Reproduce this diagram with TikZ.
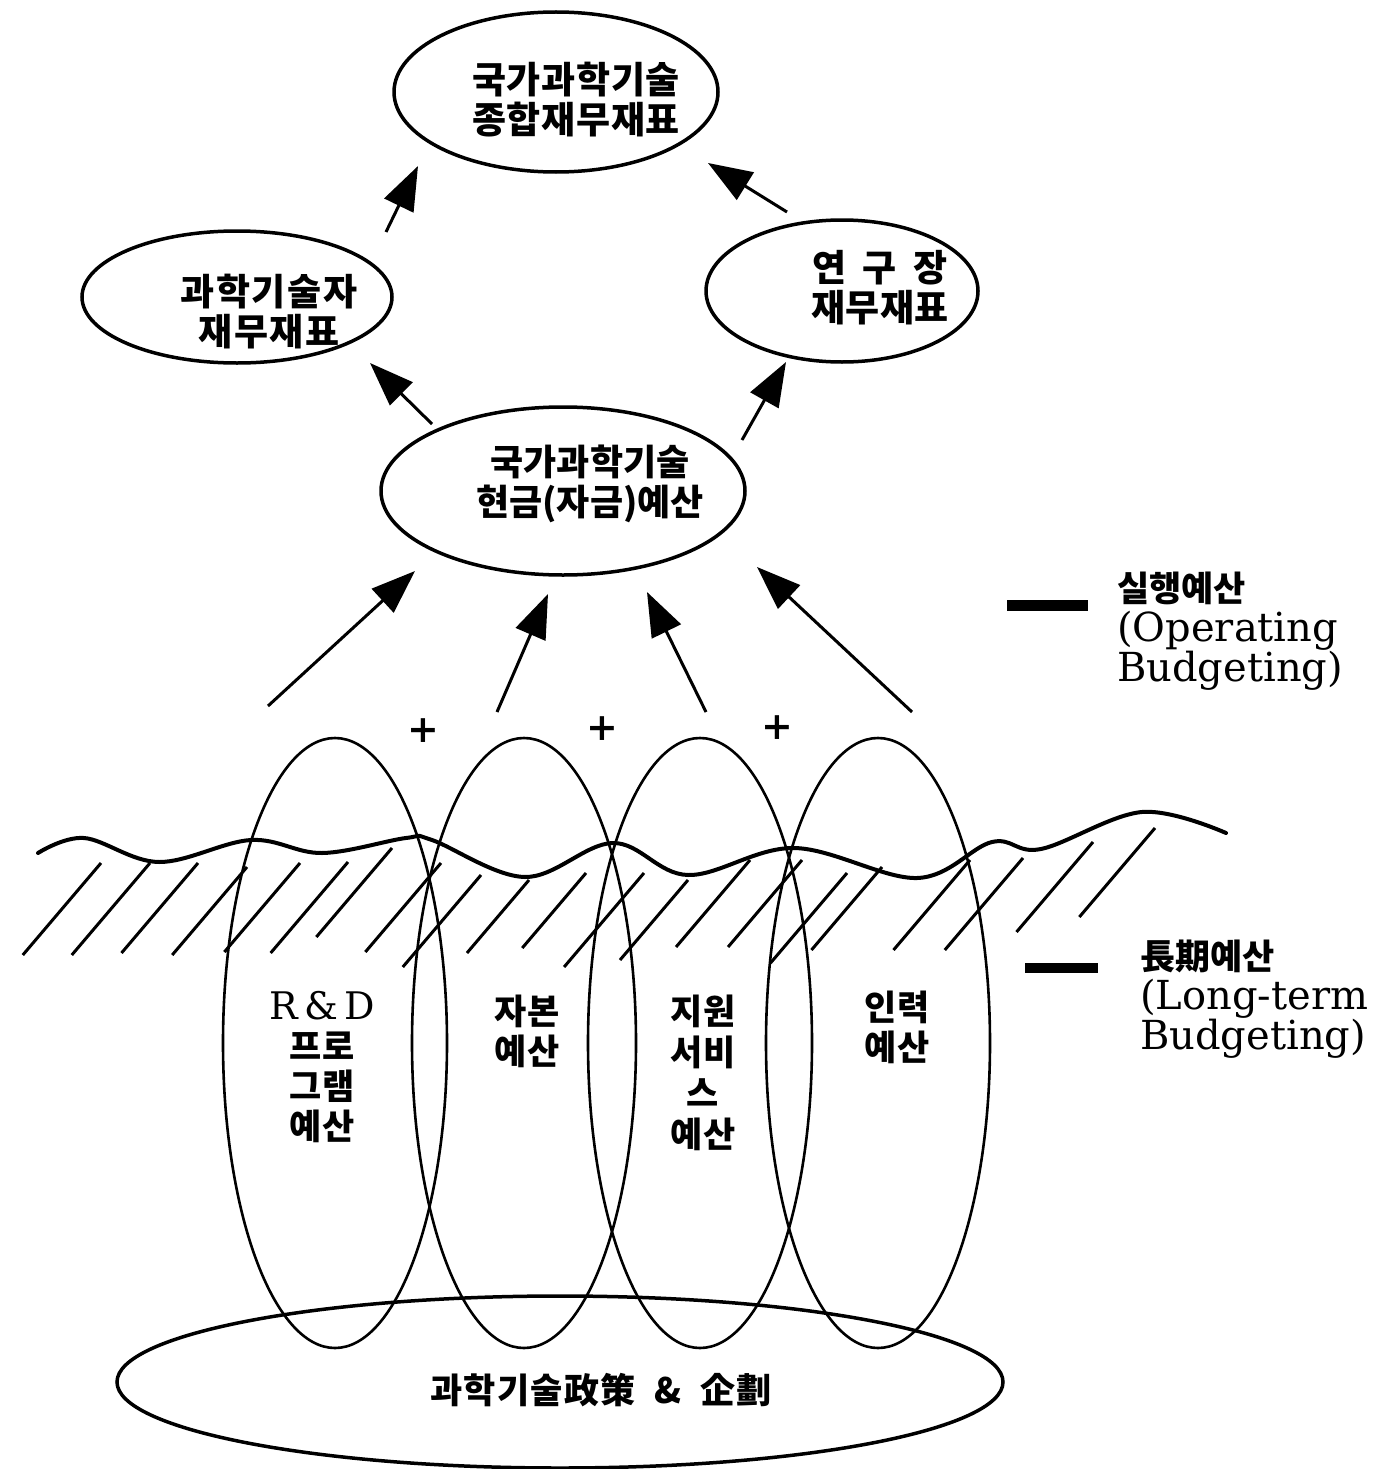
\documentclass[tikz,border=0pt]{standalone}
\usepackage{fontspec}
\setmainfont{DejaVu Serif}
\newfontfamily\kr{Noto Sans CJK KR}
\usetikzlibrary{arrows.meta,shapes.geometric}
\begin{document}
\begin{tikzpicture}[x=1pt,y=-1pt,
  oval/.style={draw, ellipse, line width=3.5pt, inner sep=0pt},
  tall/.style={draw, ellipse, line width=2.6pt, inner sep=0pt, minimum width=224pt, minimum height=610pt},
  lbl/.style={font=\kr\bfseries\fontsize{37}{40}\selectfont, align=center, inner sep=0pt},
  tlbl/.style={font=\kr\bfseries\fontsize{35}{40}\selectfont, align=center, inner sep=0pt},
  leg/.style={font=\fontsize{40}{40}\selectfont, anchor=north west, align=left, inner sep=0pt},
  arr/.style={line width=3pt, -{Triangle[length=44pt,width=32pt]}},
  hatch/.style={line width=3pt},
  wave/.style={line width=4pt, line join=round, line cap=round},
  legbar/.style={line width=11pt},
  sign/.style={font=\bfseries\fontsize{38}{38}\selectfont, inner sep=0pt}]
\useasboundingbox (0,0) rectangle (1383,1469);

% upper ellipses
\node[oval, minimum width=324pt, minimum height=160pt] (top) at (556,92) {};
\node[lbl] (toptext) at (576,100) {\addfontfeature{LetterSpace=2}국가과학기술\\\addfontfeature{LetterSpace=2}종합재무재표};
\node[oval, minimum width=310pt, minimum height=132pt] (left) at (237,297) {};
\node[lbl] (lefttext) at (269,312) {\addfontfeature{LetterSpace=4}과학기술자\\\addfontfeature{LetterSpace=4}재무재표};
\node[oval, minimum width=272pt, minimum height=142pt] (right) at (842,291) {};
\node[lbl] (righttext) at (880,288) {연\ \ 구\ \ 장\\재무재표};
\node[oval, minimum width=364pt, minimum height=168pt] (mid) at (563,491) {};
\node[lbl, font=\kr\bfseries\fontsize{36}{40}\selectfont] (midtext) at (590,484) {국가과학기술\\현금(자금)예산};

% arrows
\coordinate (a1s) at (386,232); \coordinate (a1e) at (418,166);
\coordinate (a2s) at (787,212); \coordinate (a2e) at (708,163);
\coordinate (a3s) at (432,424); \coordinate (a3e) at (370,363);
\coordinate (a4s) at (742,440); \coordinate (a4e) at (786,362);
\coordinate (b1s) at (268,706); \coordinate (b1e) at (415,571);
\coordinate (b2s) at (497,712); \coordinate (b2e) at (548,594);
\coordinate (b3s) at (706,712); \coordinate (b3e) at (647,592);
\coordinate (b4s) at (912,712); \coordinate (b4e) at (757,567);
\foreach \p in {a1,a2,a3,a4,b1,b2,b3,b4} \draw[arr] (\p s) -- (\p e);

% plus signs
\node[sign] (p1) at (423,731) {+};
\node[sign] (p2) at (602,729) {+};
\node[sign] (p3) at (777,728) {+};

% hatching
\foreach \xa/\ya/\xb/\yb in {9/955/101/863, 57/955/150/863, 106/953/198/863, 154/955/247/867,
  203/952/300/863, 256/953/348/862, 309/937/392/848, 353/952/441/863, 384/967/481/875,
  441/953/529/880, 503/948/586/873, 551/967/644/873, 595/960/688/880, 661/947/750/860,
  710/947/802/860, 758/963/847/873, 803/950/882/867, 882/950/970/860, 930/950/1023/858,
  996/932/1093/842, 1058/917/1155/828}
  {\pgfmathsetmacro\xc{\xb-(\ya-\yb)*0.85}
   \draw[hatch] (\xc,\ya) -- (\xb,\yb);}

% ground wave
\draw[wave] plot[smooth, tension=0.6] coordinates {(38,853) (84,838) (159,862) (251,840) (322,853)
  (406,838) (432,840) (525,877) (613,843) (688,875) (794,848) (917,878) (992,842) (1041,849)
  (1142,812) (1226,833)};

% tall ellipses
\node[tall] (e1) at (335,1043) {};
\node[tall] (e2) at (524,1043) {};
\node[tall] (e3) at (700,1043) {};
\node[tall] (e4) at (878,1043) {};
\node[tlbl] (t1) at (322,1067) {{\rmfamily\mdseries\fontsize{38}{40}\selectfont R\,\&\,D}\\프로\\그램\\예산};
\node[tlbl] (t2) at (527,1031) {자본\\예산};
\node[tlbl, font=\kr\bfseries\fontsize{35}{41}\selectfont] (t3) at (703,1073) {지원\\서비\\스\\예산};
\node[tlbl] (t4) at (897,1027) {인력\\예산};

% bottom ellipse
\node[oval, minimum width=886pt, minimum height=172pt] (base) at (560,1382) {};
\node[lbl, font=\kr\bfseries\fontsize{35}{36}\selectfont] (basetext) at (601,1390) {\addfontfeature{LetterSpace=4}과학기술政策\ \ \&\ \ 企劃};

% legend
\coordinate (l1a) at (1007,605); \coordinate (l1b) at (1088,605);
\draw[legbar] (l1a) -- (l1b);
\node[leg] (l1) at (1117,572) {{\kr\bfseries\fontsize{35}{40}\selectfont 실행예산}\\(Operating\\Budgeting)};
\coordinate (l2a) at (1025,968); \coordinate (l2b) at (1098,968);
\draw[legbar, line width=10pt] (l2a) -- (l2b);
\node[leg] (l2) at (1140,940) {{\kr\bfseries\fontsize{35}{40}\selectfont 長期예산}\\(Long-term\\Budgeting)};
\end{tikzpicture}
\end{document}
